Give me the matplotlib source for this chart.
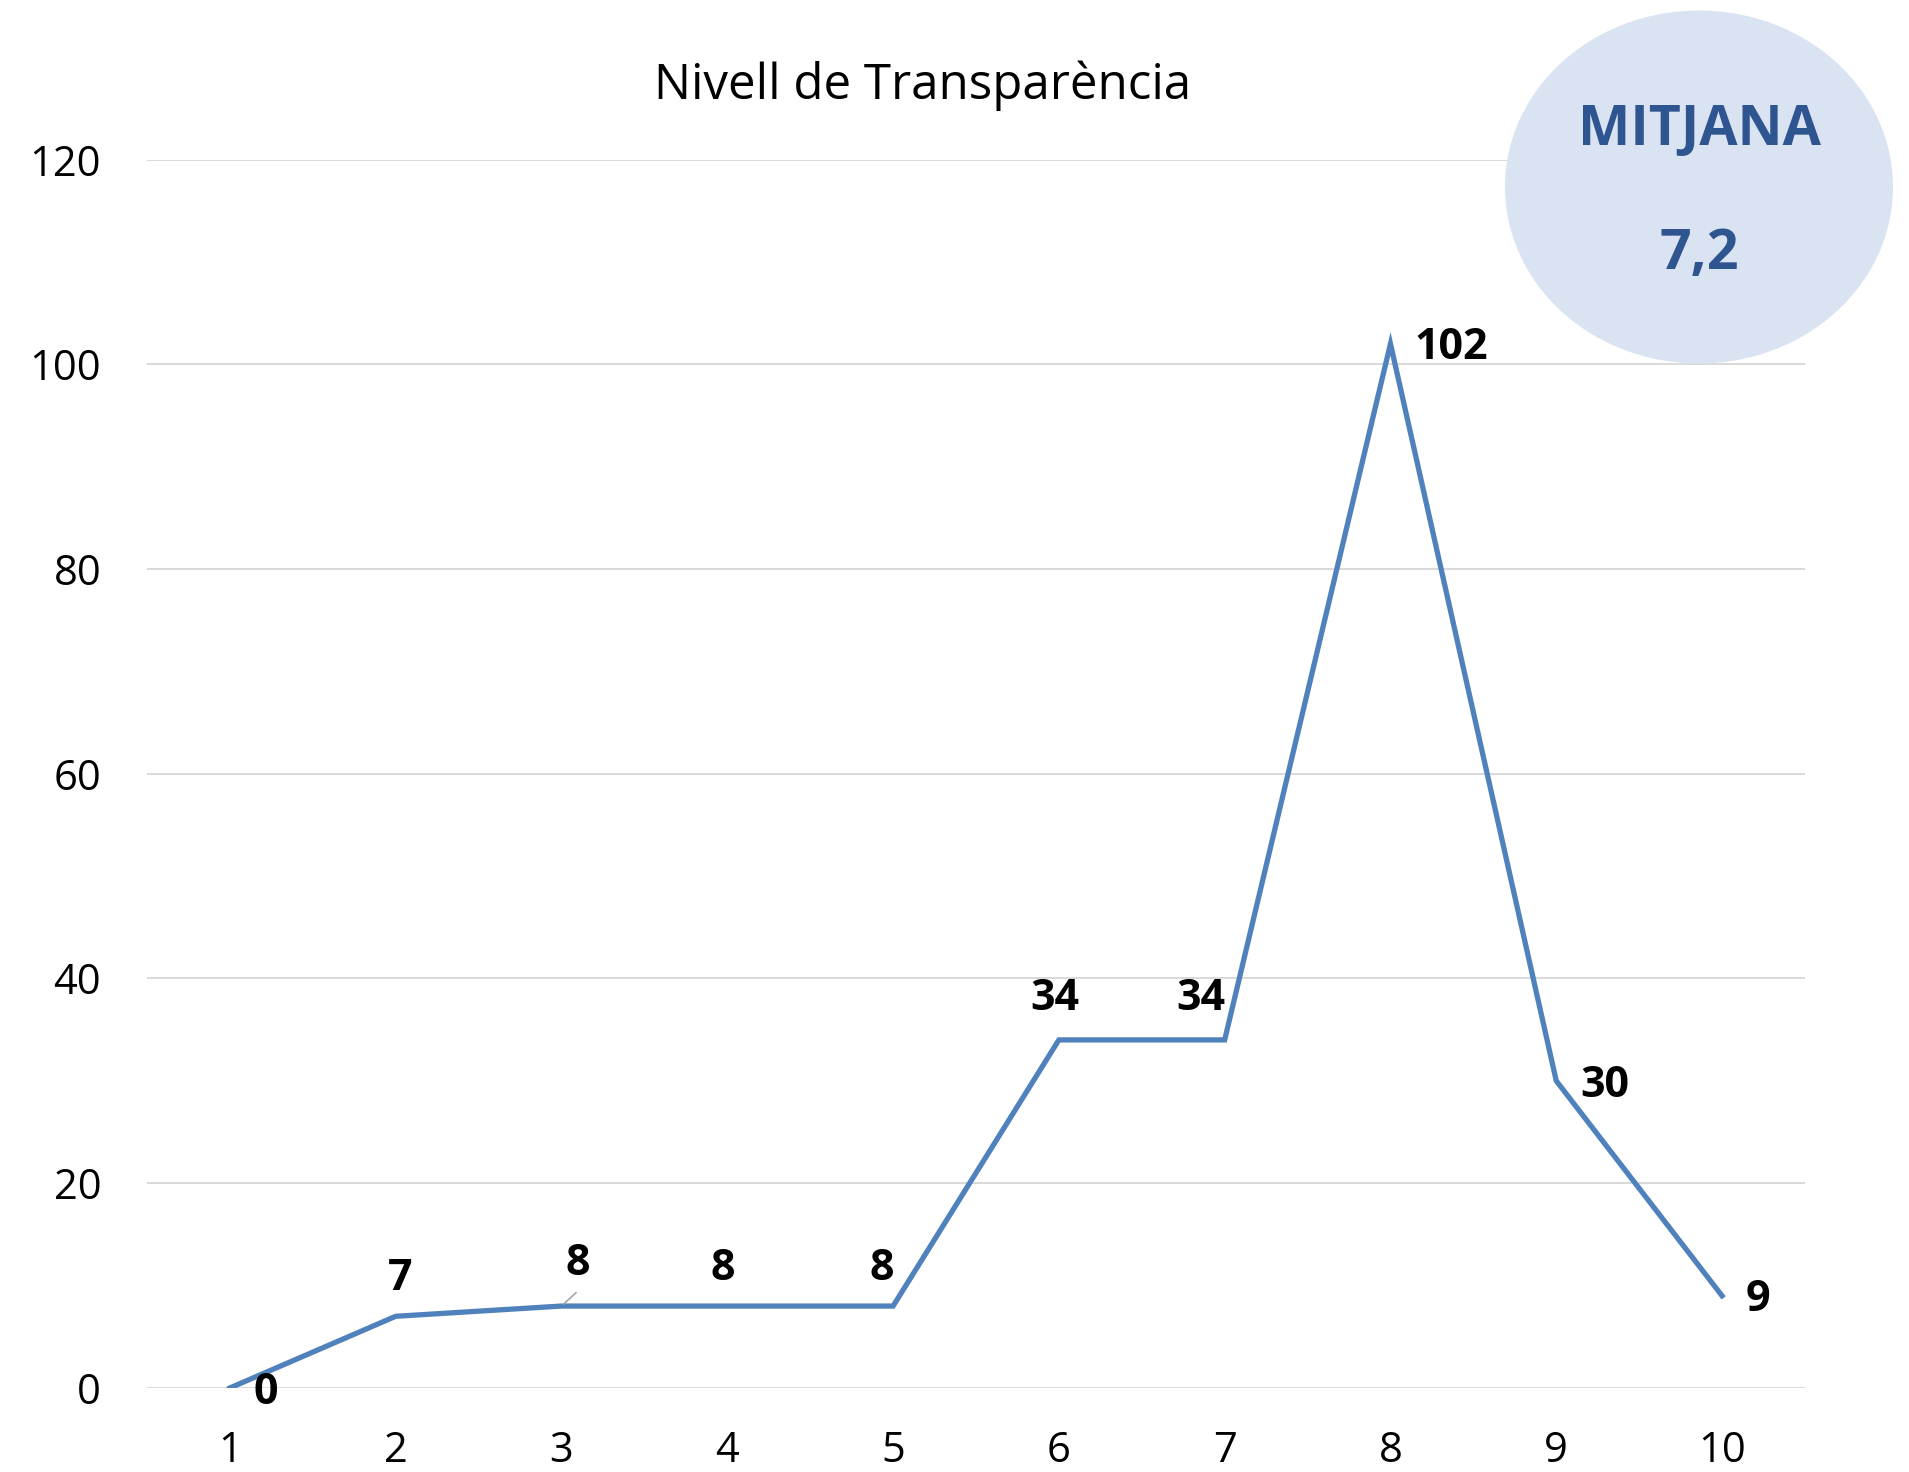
import matplotlib.pyplot as plt
from matplotlib.patches import Ellipse

# Chart data
categories = [1, 2, 3, 4, 5, 6, 7, 8, 9, 10]
values = [0, 7, 8, 8, 8, 34, 34, 102, 30, 9]
y_ticks = [0, 20, 40, 60, 80, 100, 120]
title_text = 'Nivell de Transparència'
mean_label = 'MITJANA'
mean_value = '7,2'

# label placement (points offset from each data point, alignment)
label_offsets = [(17, -3, 'left'), (3, 27, 'center'), (12, 31, 'center'),
                 (-3, 27, 'center'), (-8, 27, 'center'), (-3, 30, 'center'),
                 (-17, 30, 'center'), (17, -3, 'left'), (17, -3, 'left'),
                 (17, -3, 'left')]
leader_index = 2

plt.rcParams['font.family'] = ['Open Sans', 'DejaVu Sans']

line_color = '#4F81BD'
grid_color = '#D9D9D9'
mean_color = '#2F5591'

fig = plt.figure(figsize=(19.09, 14.72), dpi=100)
ax = fig.add_axes([0.077, 0.0571, 0.8685, 0.8345])

ax.plot(categories, values, color=line_color, linewidth=3.8,
        solid_joinstyle='miter', zorder=3)

ax.set_xlim(0.5, 10.5)
ax.set_ylim(0, 120)
ax.set_yticks(y_ticks)
ax.set_xticks(categories)
ax.yaxis.grid(True, color=grid_color, linewidth=1.4)
ax.set_axisbelow(True)
for s in ax.spines.values():
    s.set_visible(False)
ax.tick_params(axis='both', length=0, labelsize=30)
ax.tick_params(axis='x', pad=30)
ax.tick_params(axis='y', pad=33)

# data labels
for i, (x, v) in enumerate(zip(categories, values)):
    dx, dy, ha = label_offsets[i]
    ax.annotate(str(v), (x, v), xytext=(dx, dy), textcoords='offset points',
                ha=ha, va='center', fontsize=31, fontweight='bold')
    if i == leader_index:
        ax.annotate('', (x, v), xytext=(12, 11), textcoords='offset points',
                    arrowprops=dict(arrowstyle='-', color='#A6A6A6', lw=1.2))

fig.text(0.4835, 0.942, title_text, ha='center', va='center', fontsize=35.5)

# mean bubble
ell = Ellipse((1699 / 1909, 1 - 187 / 1472), 388 / 1909, 353 / 1472,
              transform=fig.transFigure, facecolor='#DAE3F1', edgecolor='none',
              zorder=5)
fig.add_artist(ell)
fig.text(1699 / 1909, 1 - 131 / 1472, mean_label, ha='center', va='center',
         fontsize=40, fontweight='bold', color=mean_color, zorder=6)
fig.text(1699 / 1909, 1 - 254 / 1472, mean_value, ha='center', va='center',
         fontsize=40, fontweight='bold', color=mean_color, zorder=6)

fig.savefig('out.png', dpi=100)
